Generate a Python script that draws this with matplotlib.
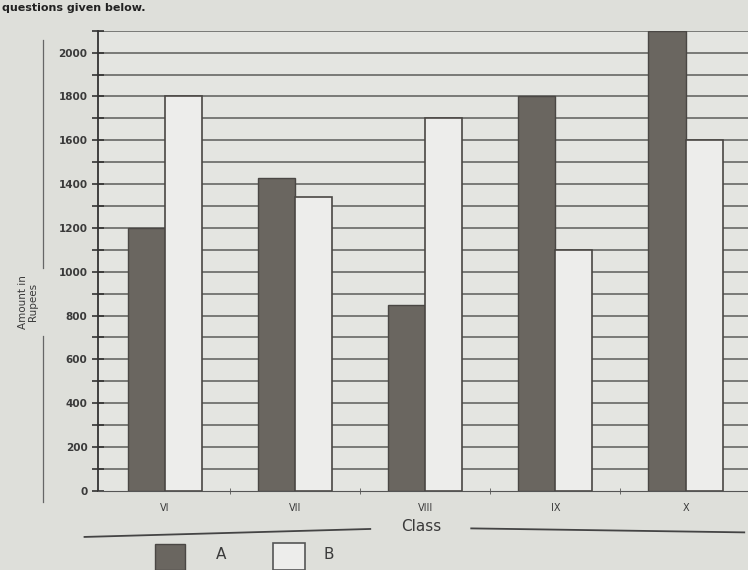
import numpy as np
import matplotlib.pyplot as plt
from matplotlib.lines import Line2D
from matplotlib.patches import Rectangle

# values (Rupees)
classes = ["VI", "VII", "VIII", "IX", "X"]
amount_a = [1200, 1430, 850, 1800, 2100]
amount_b = [1800, 1340, 1700, 1100, 1600]
y_ticks = [0, 200, 400, 600, 800, 1000, 1200, 1400, 1600, 1800, 2000]

paper = "#dedfda"
dark = "#6a6660"
light = "#ededeb"
ink = "#3a3a3a"

fig = plt.figure(figsize=(7.48, 5.70), dpi=100, facecolor=paper)
ax = fig.add_axes([0.131, 0.139, 0.869, 0.807], facecolor="#e4e5e1")

x = np.arange(len(classes))
w = 0.285
ax.bar(x - w / 2, amount_a, w, color=dark, edgecolor="#4a4744", linewidth=1, zorder=3)
ax.bar(x + w / 2, amount_b, w, color=light, edgecolor="#4a4744", linewidth=1.2, zorder=3)

# horizontal rules every 100
ax.set_yticks(y_ticks)
ax.set_yticks(np.arange(100, 2200, 200), minor=True)
for v in np.arange(100, 2200, 100):
    ax.axhline(v, color="#5c5c5a", linewidth=1.1, zorder=1)

ax.set_ylim(0, 2100)
ax.set_xlim(-0.515, 4.48)
ax.set_xticks(x)
ax.set_xticklabels(classes, fontsize=7, color=ink)
ax.set_xticks(x[:-1] + 0.5, minor=True)
ax.tick_params(axis="x", which="major", length=0, pad=9)
ax.tick_params(axis="x", which="minor", length=4, direction="inout", color="#555")
ax.tick_params(axis="y", which="both", length=8, direction="inout", color="#333", width=1.2)
for lab in ax.get_yticklabels():
    lab.set_fontsize(7.5)
    lab.set_fontweight("bold")
    lab.set_color(ink)

for s in ["top", "right"]:
    ax.spines[s].set_visible(False)
ax.spines["left"].set_color("#333")
ax.spines["left"].set_linewidth(1.3)
ax.spines["bottom"].set_color("#555")

# axis titles
fig.text(0.038, 0.47, "Amount in\nRupees", rotation=90, fontsize=7.5,
         ha="center", va="center", color=ink, linespacing=1.0)
fig.add_artist(Line2D([0.057, 0.057], [0.93, 0.53], color="#666", lw=0.9))
fig.add_artist(Line2D([0.057, 0.057], [0.41, 0.12], color="#666", lw=0.9))

fig.text(0.563, 0.077, "Class", fontsize=11, ha="center", va="center", color=ink)
fig.add_artist(Line2D([0.113, 0.495], [0.058, 0.072], color="#444", lw=1.3))
fig.add_artist(Line2D([0.63, 0.995], [0.073, 0.066], color="#444", lw=1.3))

# legend
fig.add_artist(Rectangle((0.207, 0.0), 0.04, 0.045, transform=fig.transFigure,
                         facecolor=dark, edgecolor="#4a4744"))
fig.text(0.295, 0.027, "A", fontsize=11, ha="center", va="center", color=ink)
fig.add_artist(Rectangle((0.365, 0.0), 0.043, 0.047, transform=fig.transFigure,
                         facecolor=light, edgecolor="#555", lw=1.2))
fig.text(0.44, 0.027, "B", fontsize=11, ha="center", va="center", color=ink)

# line of question text at the very top
fig.text(0.003, 0.995, "questions given below.", fontsize=8, fontweight="bold",
         ha="left", va="top", color="#222")

fig.savefig("out.png", dpi=100, facecolor=paper)
